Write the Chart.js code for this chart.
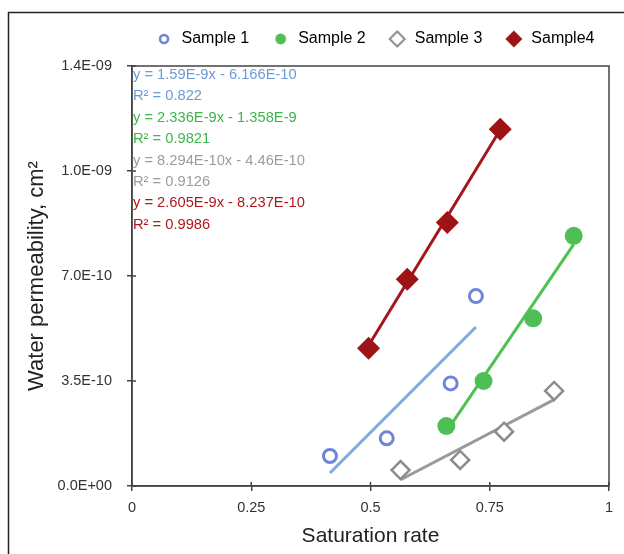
<!DOCTYPE html>
<html>
<head>
<meta charset="utf-8">
<script src="https://cdn.jsdelivr.net/npm/chart.js@4.4.1/dist/chart.umd.min.js"></script>
<style>
  html, body { margin: 0; padding: 0; background: #fff; overflow: hidden; }
  #wrap { width: 624px; height: 554px; }
</style>
</head>
<body>
<div id="wrap"><canvas id="chart" width="624" height="554"></canvas></div>
<script>
// Saturation rate (x) vs water permeability in cm2 (y)
const sample1X = [0.415, 0.534, 0.668, 0.721];
const sample1Y = [1.00e-10, 1.59e-10, 3.42e-10, 6.33e-10];
const sample2X = [0.659, 0.737, 0.841, 0.926];
const sample2Y = [2.00e-10, 3.50e-10, 5.59e-10, 8.34e-10];
const sample3X = [0.563, 0.688, 0.780, 0.885];
const sample3Y = [0.53e-10, 0.87e-10, 1.81e-10, 3.17e-10];
const sample4X = [0.496, 0.577, 0.661, 0.772];
const sample4Y = [4.59e-10, 6.89e-10, 8.78e-10, 11.89e-10];

const seriesNames = ['Sample 1', 'Sample 2', 'Sample 3', 'Sample4'];

// linear trend lines, coefficients as printed on the chart
const trendSlopes = [1.59e-9, 2.336e-9, 8.294e-10, 2.605e-9];
const trendIntercepts = [-6.166e-10, -1.358e-9, -4.46e-10, -8.237e-10];
const trendText = [
  'y = 1.59E-9x - 6.166E-10', 'R² = 0.822',
  'y = 2.336E-9x - 1.358E-9', 'R² = 0.9821',
  'y = 8.294E-10x - 4.46E-10', 'R² = 0.9126',
  'y = 2.605E-9x - 8.237E-10', 'R² = 0.9986'
];

const xTickValues = [0, 0.25, 0.5, 0.75, 1];
const xTickLabels = ['0', '0.25', '0.5', '0.75', '1'];
const yTickValues = [0, 3.5e-10, 7e-10, 1.05e-9, 1.4e-9];
const yTickLabels = ['0.0E+00', '3.5E-10', '7.0E-10', '1.0E-09', '1.4E-09'];

const FONT = '"Liberation Sans", Arial, Helvetica, sans-serif';
const AXIS = '#444';

const markerColors = ['#6f86d6', '#4dbf55', '#8c8c8c', '#9e1316'];
const lineColors = ['#7eaae0', '#4cc24f', '#9a9a9a', '#a3171b'];
const textColors = ['#6b9ad9', '#3fb54a', '#9c9c9c', '#b0181d'];

const xs = [sample1X, sample2X, sample3X, sample4X];
const ys = [sample1Y, sample2Y, sample3Y, sample4Y];

// small marker pictures for the legend (the legend uses smaller markers than the plot)
function legendIcon(shape, r, fill, stroke, lw) {
    const c = document.createElement('canvas');
    c.width = 24; c.height = 24;
    const g = c.getContext('2d');
    g.beginPath();
    if (shape === 'circle') {
        g.arc(12, 12, r, 0, Math.PI * 2);
    } else {
        g.moveTo(12 - r, 12); g.lineTo(12, 12 - r);
        g.lineTo(12 + r, 12); g.lineTo(12, 12 + r);
        g.closePath();
    }
    if (fill) { g.fillStyle = fill; g.fill(); }
    if (stroke) { g.strokeStyle = stroke; g.lineWidth = lw; g.stroke(); }
    return c;
}

const legendIcons = [
    legendIcon('circle', 4, '#fff', markerColors[0], 2.6),
    legendIcon('circle', 5.4, markerColors[1], null, 0),
    legendIcon('diamond', 7.5, '#fff', markerColors[2], 2),
    legendIcon('diamond', 8.5, markerColors[3], null, 0)
];

const pointStyles = [
    { pointStyle: 'circle', pointRadius: 6.5, pointBorderWidth: 3, pointBackgroundColor: '#fff', pointBorderColor: markerColors[0] },
    { pointStyle: 'circle', pointRadius: 9, pointBorderWidth: 0, pointBackgroundColor: markerColors[1], pointBorderColor: markerColors[1] },
    { pointStyle: 'rectRot', pointRadius: 9, pointBorderWidth: 2.5, pointBackgroundColor: '#fff', pointBorderColor: markerColors[2] },
    { pointStyle: 'rectRot', pointRadius: 11.5, pointBorderWidth: 0, pointBackgroundColor: markerColors[3], pointBorderColor: markerColors[3] }
];

const datasets = [];
seriesNames.forEach((name, i) => {
    datasets.push(Object.assign({
        label: name,
        data: xs[i].map((x, k) => ({ x: x, y: ys[i][k] })),
        showLine: false,
        pointHoverRadius: pointStyles[i].pointRadius,
        order: 1
    }, pointStyles[i]));
});
seriesNames.forEach((name, i) => {
    const x0 = Math.min(...xs[i]);
    const x1 = Math.max(...xs[i]);
    datasets.push({
        label: name + ' trend',
        data: [x0, x1].map(x => ({ x: x, y: trendSlopes[i] * x + trendIntercepts[i] })),
        showLine: true,
        borderColor: lineColors[i],
        borderWidth: 3,
        pointRadius: 0,
        pointHoverRadius: 0,
        order: 2
    });
});

// plot frame, inner tick halves, outer figure border and trend equations
const framePlugin = {
    id: 'frame',
    beforeLayout(chart) {
        const legend = chart.legend;
        if (legend && !legend._patched) {
            // keep all four entries on one row, like the original
            const fit = legend.fit;
            legend.fit = function () {
                const mw = this.maxWidth;
                this.maxWidth = mw + 60;
                fit.call(this);
                this.maxWidth = mw;
                this.height += 9;
            };
            const draw = legend.draw;
            legend.draw = function () {
                this.left -= 26; this.right += 34;
                draw.call(this);
                this.left += 26; this.right -= 34;
            };
            legend._patched = true;
        }
    },
    beforeDraw(chart) {
        const ctx = chart.ctx;
        ctx.save();
        ctx.fillStyle = '#fff';
        ctx.fillRect(0, 0, chart.width, chart.height);
        ctx.strokeStyle = '#222';
        ctx.lineWidth = 1.5;
        ctx.beginPath();
        ctx.moveTo(8.5, chart.height);
        ctx.lineTo(8.5, 12.5);
        ctx.lineTo(chart.width, 12.5);
        ctx.stroke();
        ctx.restore();
    },
    afterDraw(chart) {
        const { ctx, chartArea: a, scales } = chart;
        ctx.save();
        ctx.strokeStyle = AXIS;
        ctx.lineWidth = 1.5;
        ctx.strokeRect(a.left, a.top, a.right - a.left, a.bottom - a.top);
        ctx.beginPath();
        yTickValues.forEach(v => {
            const py = scales.y.getPixelForValue(v);
            ctx.moveTo(a.left, py); ctx.lineTo(a.left + 4, py);
        });
        xTickValues.forEach(v => {
            const px = scales.x.getPixelForValue(v);
            ctx.moveTo(px, a.bottom); ctx.lineTo(px, a.bottom - 4);
        });
        ctx.stroke();

        ctx.font = '14.7px ' + FONT;
        ctx.textBaseline = 'middle';
        ctx.textAlign = 'left';
        trendText.forEach((t, i) => {
            ctx.fillStyle = textColors[Math.floor(i / 2)];
            ctx.fillText(t, a.left + 1, a.top + 9 + i * 21.4);
        });
        ctx.restore();
    }
};

new Chart(document.getElementById('chart'), {
    type: 'scatter',
    data: { datasets: datasets },
    options: {
        responsive: false,
        animation: false,
        layout: { padding: { top: 9, right: 15, bottom: 0, left: 0 } },
        plugins: {
            tooltip: { enabled: false },
            legend: {
                position: 'top',
                fullSize: false,
                labels: {
                    usePointStyle: true,
                    pointStyleWidth: 19,
                    padding: 22,
                    color: '#222',
                    font: { family: FONT, size: 16 },
                    generateLabels: () => seriesNames.map((name, i) => ({
                        text: name,
                        pointStyle: legendIcons[i],
                        fillStyle: markerColors[i],
                        strokeStyle: markerColors[i],
                        lineWidth: 0,
                        hidden: false,
                        datasetIndex: i
                    }))
                },
                onClick: () => {}
            }
        },
        scales: {
            x: {
                type: 'linear',
                min: 0,
                max: 1,
                afterBuildTicks: s => { s.ticks = xTickValues.map(v => ({ value: v })); },
                afterFit: s => { s.height = 68; },
                ticks: {
                    callback: (v, i) => xTickLabels[i],
                    color: '#333',
                    padding: 8,
                    maxRotation: 0,
                    font: { family: FONT, size: 14.5 }
                },
                grid: { drawOnChartArea: false, drawTicks: true, tickLength: 5, color: AXIS, lineWidth: 1.5 },
                border: { color: AXIS, width: 1.5 },
                title: {
                    display: true,
                    text: 'Saturation rate',
                    color: '#222',
                    font: { family: FONT, size: 21 },
                    padding: { top: 0, bottom: 5 }
                }
            },
            y: {
                type: 'linear',
                min: 0,
                max: 1.4e-9,
                afterBuildTicks: s => { s.ticks = yTickValues.map(v => ({ value: v })); },
                afterFit: s => { s.width = 132; },
                ticks: {
                    callback: (v, i) => yTickLabels[i],
                    color: '#333',
                    padding: 15,
                    font: { family: FONT, size: 14.5 }
                },
                grid: { drawOnChartArea: false, drawTicks: true, tickLength: 5, color: AXIS, lineWidth: 1.5 },
                border: { color: AXIS, width: 1.5 },
                title: {
                    display: true,
                    text: 'Water permeability, cm²',
                    color: '#222',
                    font: { family: FONT, size: 22 },
                    padding: { top: 24, bottom: 0 }
                }
            }
        }
    },
    plugins: [framePlugin]
});
</script>
</body>
</html>
